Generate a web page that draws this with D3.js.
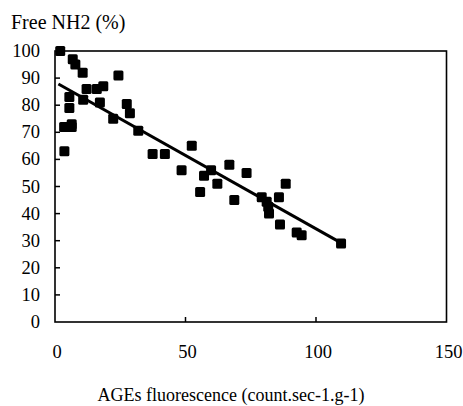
<!DOCTYPE html>
<html>
<head>
<meta charset="utf-8">
<script src="https://cdn.jsdelivr.net/npm/d3@7"></script>
<style>
    body { margin: 0; background: #fff; }
    text { font-family: "Liberation Serif", "Times New Roman", serif; fill: #000; }
</style>
</head>
<body>
<div class="vis"></div>
<script>
    // AGEs fluorescence vs free NH2
    const agesX = [2, 3.6, 3.5, 6.4, 6.4, 5.5, 5.5, 6.8, 7.8, 10.6, 10.8, 12.1, 16, 18.5, 17.2,
        22.3, 24.3, 27.5, 28.7, 31.9, 37.4, 42.1, 48.5, 52.4, 55.6, 57.1, 59.8, 62.2, 66.8,
        68.7, 73.4, 79.2, 81.1, 81.7, 82, 85.8, 86.2, 88.4, 92.6, 94.5, 109.6];
    const freeNH2 = [100, 63, 72, 73, 72, 83, 79, 97, 95, 92, 82, 86, 86, 87, 81,
        75, 91, 80.4, 77, 70.6, 62, 62, 56, 65, 48, 54, 56, 51, 58,
        45, 55, 46, 44.4, 42.5, 40, 46, 36, 51, 33, 32, 29];
    // fitted line endpoints
    const trendX = [1.3, 109.6];
    const trendY = [87.8, 29.2];

    const xTicks = [0, 50, 100, 150];
    const yTicks = [0, 10, 20, 30, 40, 50, 60, 70, 80, 90, 100];

    const dimensions = {
        width: 463,
        height: 406,
        left: 55,
        right: 446.5,
        top: 51,
        bottom: 322
    };

    const svg = d3.select(".vis").append("svg")
        .attr("width", dimensions.width)
        .attr("height", dimensions.height);

    const x = d3.scaleLinear().domain([0, 150]).range([dimensions.left, dimensions.right]);
    const y = d3.scaleLinear().domain([0, 100]).range([dimensions.bottom, dimensions.top]);

    // frame
    svg.append("rect")
        .attr("x", x(0))
        .attr("y", y(100))
        .attr("width", x(150) - x(0))
        .attr("height", y(0) - y(100))
        .attr("fill", "none")
        .attr("stroke", "#000")
        .attr("stroke-width", 1.6);

    // y ticks (inside)
    svg.selectAll(".ytick")
        .data(yTicks.slice(1, -1))
        .enter().append("line")
        .attr("x1", x(0))
        .attr("x2", x(0) + 5)
        .attr("y1", d => y(d))
        .attr("y2", d => y(d))
        .attr("stroke", "#000")
        .attr("stroke-width", 1.5);

    svg.selectAll(".ylabel")
        .data(yTicks)
        .enter().append("text")
        .attr("x", 40)
        .attr("y", d => y(d) + 6)
        .attr("text-anchor", "end")
        .style("font-size", "18.5px")
        .text(d => d);

    // x ticks (inside)
    svg.selectAll(".xtick")
        .data(xTicks.slice(1, -1))
        .enter().append("line")
        .attr("x1", d => x(d))
        .attr("x2", d => x(d))
        .attr("y1", y(0))
        .attr("y2", y(0) - 5)
        .attr("stroke", "#000")
        .attr("stroke-width", 1.5);

    svg.selectAll(".xlabel")
        .data(xTicks)
        .enter().append("text")
        .attr("x", d => x(d) + 2)
        .attr("y", 358)
        .attr("text-anchor", "middle")
        .style("font-size", "18.5px")
        .text(d => d);

    // trend line
    svg.append("line")
        .attr("x1", x(trendX[0]))
        .attr("y1", y(trendY[0]))
        .attr("x2", x(trendX[1]))
        .attr("y2", y(trendY[1]))
        .attr("stroke", "#000")
        .attr("stroke-width", 3);

    // points
    svg.selectAll(".pt")
        .data(agesX.map((v, i) => [v, freeNH2[i]]))
        .enter().append("rect")
        .attr("class", "pt")
        .attr("x", d => x(d[0]) - 5)
        .attr("y", d => y(d[1]) - 5)
        .attr("width", 10)
        .attr("height", 10)
        .attr("rx", 1.5)
        .attr("fill", "#000");

    svg.append("text")
        .attr("x", 11)
        .attr("y", 29)
        .style("font-size", "20px")
        .text("Free NH2 (%)");

    svg.append("text")
        .attr("x", 231)
        .attr("y", 401)
        .attr("text-anchor", "middle")
        .style("font-size", "18px")
        .text("AGEs fluorescence (count.sec-1.g-1)");
</script>
</body>
</html>
